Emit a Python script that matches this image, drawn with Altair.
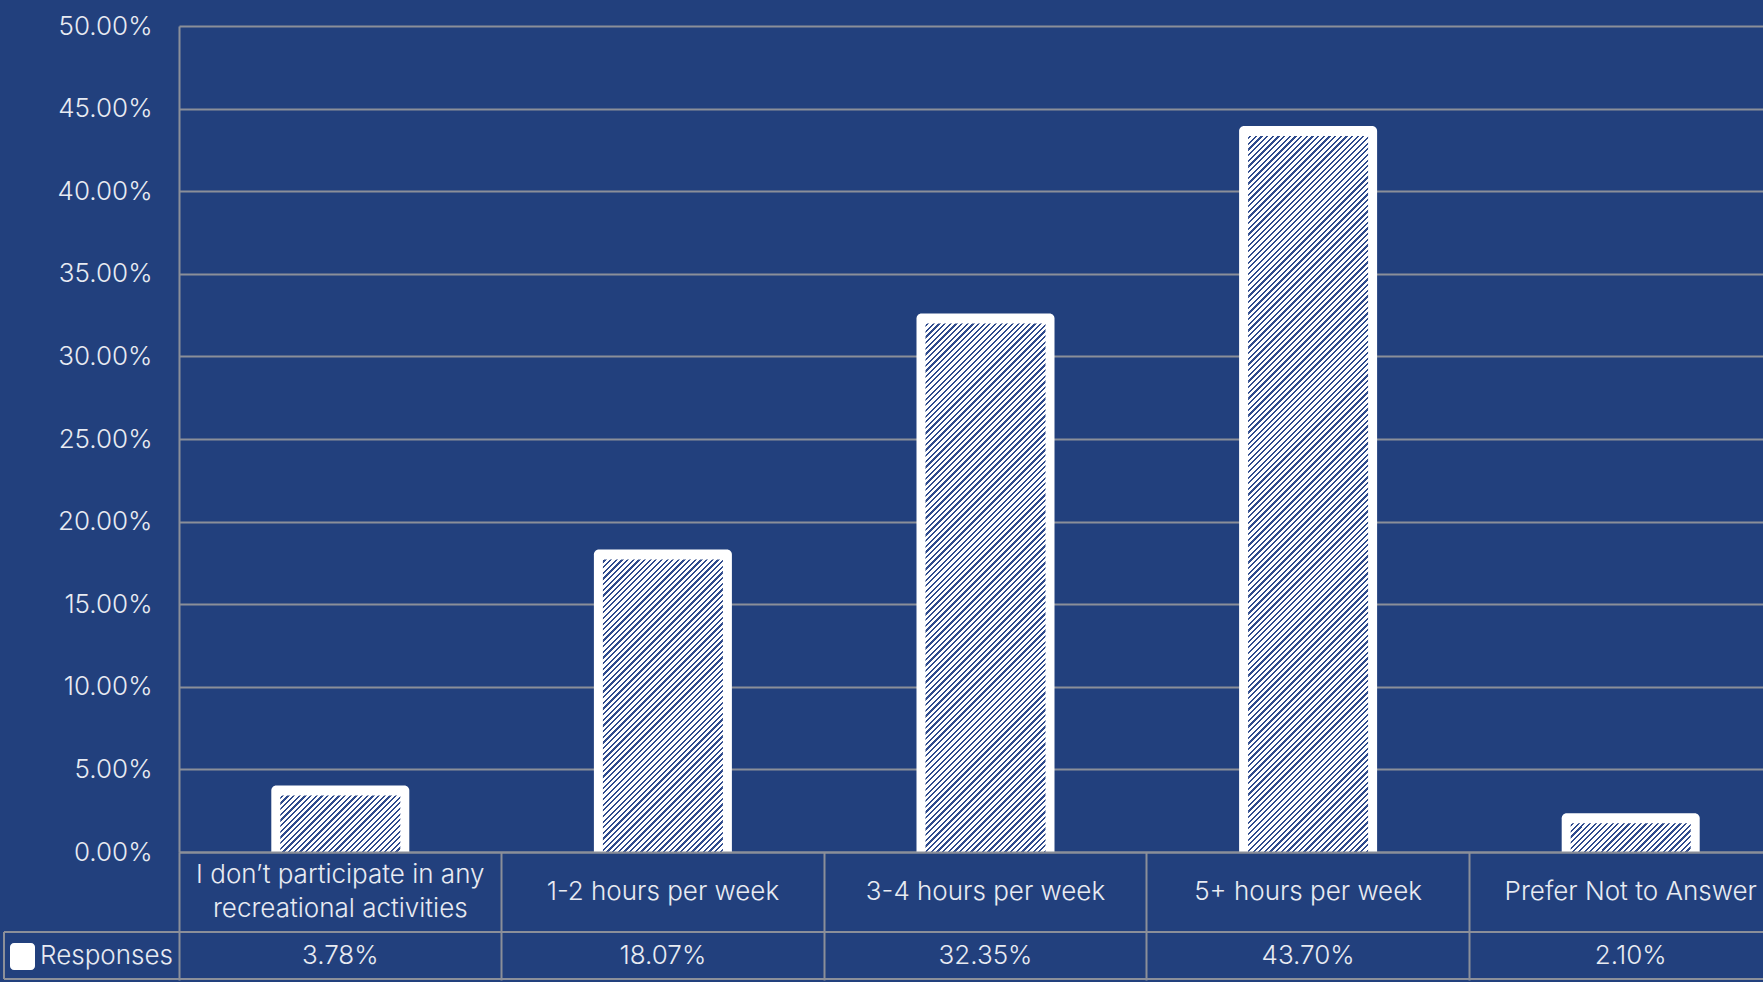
import math
import altair as alt
import pandas as pd

# ---------------- data ----------------
categories = [
    "I don’t participate in any recreational activities",
    "1-2 hours per week",
    "3-4 hours per week",
    "5+ hours per week",
    "Prefer Not to Answer",
]
category_labels = [
    "I don’t participate in any\nrecreational activities",
    "1-2 hours per week",
    "3-4 hours per week",
    "5+ hours per week",
    "Prefer Not to Answer",
]
values = [3.78, 18.07, 32.35, 43.70, 2.10]
value_labels = ["3.78%", "18.07%", "32.35%", "43.70%", "2.10%"]
y_ticks = [0, 5, 10, 15, 20, 25, 30, 35, 40, 45, 50]
series_name = "Responses"

# ---------------- style / layout ----------------
BG = "#22407d"
GRID = "#8b8f99"
TEXT = "#e8ebf2"
FONT = "Inter"
PAD_L, PAD_T = 179, 26
W, H = 1584, 826
XRANGE = 1613
PAD_B = 982 - PAD_T - H
OUTER_W, INNER_W = 138, 120
Y_MAX = 50
px_per_unit = H / Y_MAX
INNER_TOP = 6

df = pd.DataFrame({"cat": categories, "label": category_labels,
                   "value": values, "vlabel": value_labels,
                   "multi": ["\n" in s for s in category_labels]})

xscale = alt.Scale(domain=categories, range=[0, XRANGE], paddingInner=0, paddingOuter=0)
yscale = alt.Scale(domain=[0, Y_MAX], nice=False, zero=True)

x_enc = alt.X("cat:N", scale=xscale, sort=categories, axis=alt.Axis(
    labels=False, title=None, grid=False, ticks=True, bandPosition=0,
    tickSize=128, tickColor=GRID, tickWidth=2, domain=True,
    domainColor=GRID, domainWidth=2, zindex=1))
y_enc = alt.Y("value:Q", scale=yscale, stack=None, axis=alt.Axis(
    values=y_ticks, labelExpr="format(datum.value, '.2f') + '%'",
    title=None, grid=True, gridColor=GRID, gridWidth=2, domain=True,
    domainColor=GRID, domainWidth=2, ticks=False, labelPadding=27,
    labelFontSize=26, labelColor=TEXT, labelFont=FONT, labelFontWeight=300))
y2_enc = alt.Y2(datum=0)


def hatch(w, h, period=4.0, lw=1.6, bg="#ffffff", fg="#2f4b8d"):
    L = (w + h) / math.sqrt(2)
    alpha = (w + h) / (w * w + h * h)
    stops = [(bg, 0.0)]
    k = 0
    while True:
        s = (k * period + 1.0) / L
        e = (k * period + 1.0 + lw) / L
        if s >= 1:
            break
        e = min(e, 1.0)
        stops += [(bg, s), (fg, s), (fg, e), (bg, e)]
        k += 1
    stops.append((bg, 1.0))
    return alt.LinearGradient(
        gradient="linear",
        stops=[alt.GradientStop(color=c, offset=round(o, 6)) for c, o in stops],
        x1=0, y1=0, x2=alpha * w, y2=alpha * h)


base = alt.Chart(df)

outer = base.mark_bar(size=OUTER_W, color="#ffffff", yOffset=-4, y2Offset=0.01,
                      cornerRadiusTopLeft=5, cornerRadiusTopRight=5).encode(
    x=x_enc, y=y_enc, y2=y2_enc)

hatch_layers = []
for c, v in zip(categories, values):
    h_in = v * px_per_unit - INNER_TOP
    hatch_layers.append(
        base.transform_filter(alt.datum.cat == c)
        .mark_bar(size=INNER_W, yOffset=INNER_TOP, y2Offset=0.01, fill=hatch(INNER_W, h_in))
        .encode(x=x_enc, y=y_enc, y2=y2_enc)
    )

cat_text_1 = base.transform_filter("!datum.multi").mark_text(
    fontSize=26, font=FONT, fontWeight=300, color=TEXT, baseline="middle").encode(
    x=x_enc, y=alt.value(866), text="label:N")
cat_text_2 = base.transform_filter("datum.multi").mark_text(
    fontSize=26, font=FONT, fontWeight=300, color=TEXT, lineBreak="\n",
    lineHeight=34, baseline="middle").encode(
    x=x_enc, y=alt.value(849), text="label:N")

val_text = base.mark_text(fontSize=26, font=FONT, fontWeight=300, color=TEXT,
                          baseline="middle").encode(
    x=x_enc, y=alt.value(930), text="vlabel:N")

one = alt.Chart(pd.DataFrame({"name": [series_name]}))
rule_mid = one.mark_rule(color=GRID, strokeWidth=2).encode(
    x=alt.value(-175), x2=alt.value(XRANGE), y=alt.value(906))
rule_bot = one.mark_rule(color=GRID, strokeWidth=2).encode(
    x=alt.value(-175), x2=alt.value(XRANGE), y=alt.value(953))
rule_left = one.mark_rule(color=GRID, strokeWidth=2).encode(
    x=alt.value(-175), y=alt.value(906), y2=alt.value(953))
icon = one.mark_rect(color="#ffffff", cornerRadius=4).encode(
    x=alt.value(-169), x2=alt.value(-144), y=alt.value(917), y2=alt.value(944))
series_text = one.mark_text(fontSize=26, font=FONT, fontWeight=300, color=TEXT,
                            align="left", baseline="middle").encode(
    x=alt.value(-139), y=alt.value(930), text="name:N")

chart = alt.layer(outer, *hatch_layers, cat_text_1, cat_text_2, val_text,
                  rule_mid, rule_bot, rule_left, icon, series_text).properties(
    width=W, height=H,
    padding={"left": PAD_L, "top": PAD_T, "right": 0, "bottom": PAD_B},
    autosize=alt.AutoSizeParams(type="none"),
    background=BG,
).configure_view(stroke=None)

chart.save("out.html", embed_options={"renderer": "svg", "actions": False})
